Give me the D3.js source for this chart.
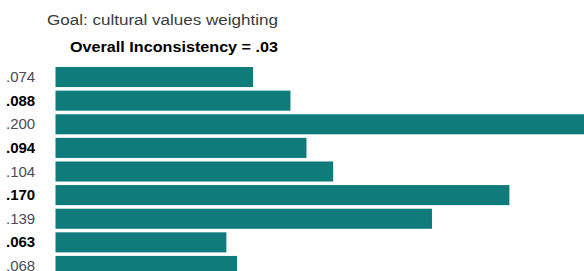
<!DOCTYPE html>
<html>
<head>
<meta charset="utf-8">
<script src="https://cdn.jsdelivr.net/npm/d3@7"></script>
<style>
  body { margin: 0; background: #fff; }
  svg { display: block; font-family: "Liberation Sans", Arial, sans-serif; }
</style>
</head>
<body>
<svg id="chart"></svg>
<script>
// criteria weights, top to bottom (bar lengths)
let labels = [".074", ".088", ".200", ".094", ".104", ".170", ".139", ".063", ".068"];
let weights = [0.074, 0.088, 0.200, 0.094, 0.104, 0.170, 0.141, 0.064, 0.068];
let boldRows = [false, true, false, true, false, true, false, true, false];

let goalText = "Goal: cultural values weighting";
let inconsistencyText = "Overall Inconsistency = .03";

let width = 584, height = 271;
let svg = d3.select("#chart").attr("width", width).attr("height", height);

let x = d3.scaleLinear().domain([0, 0.2]).range([55.5, 589.5]);
let y = d3.scaleBand()
  .domain(d3.range(weights.length))
  .range([67, 276])
  .paddingInner(0.15)
  .paddingOuter(0);

svg.append("text")
  .attr("x", 47).attr("y", 25)
  .attr("font-size", 14)
  .attr("fill", "#3a3a3a")
  .attr("textLength", 231)
  .attr("lengthAdjust", "spacingAndGlyphs")
  .text(goalText);

svg.append("text")
  .attr("x", 70).attr("y", 52)
  .attr("font-size", 15)
  .attr("font-weight", "bold")
  .attr("fill", "#000")
  .attr("textLength", 208)
  .attr("lengthAdjust", "spacingAndGlyphs")
  .text(inconsistencyText);

svg.selectAll("rect.bar")
  .data(weights)
  .enter().append("rect")
  .attr("class", "bar")
  .attr("x", x(0))
  .attr("y", (d, i) => y(i))
  .attr("width", d => x(d) - x(0))
  .attr("height", y.bandwidth())
  .attr("fill", "#0f7c7b");

svg.selectAll("text.lbl")
  .data(labels)
  .enter().append("text")
  .attr("class", "lbl")
  .attr("x", 6)
  .attr("y", (d, i) => y(i) + y.bandwidth() / 2 + 5)
  .attr("font-size", 15)
  .attr("font-weight", (d, i) => boldRows[i] ? "bold" : "normal")
  .attr("fill", (d, i) => boldRows[i] ? "#000" : "#4a4a5a")
  .text(d => d);
</script>
</body>
</html>
